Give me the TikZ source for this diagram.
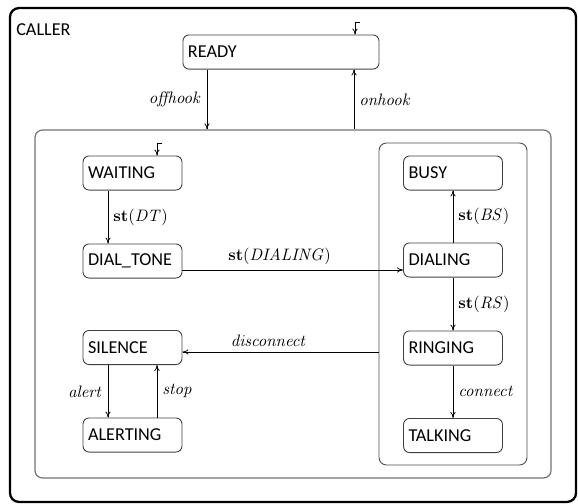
\documentclass[tikz,border=0pt]{standalone}
\usepackage[no-math]{fontspec}
\setsansfont{Carlito}
\usetikzlibrary{arrows.meta}

\begin{document}
\begin{tikzpicture}[x=0.66pt,y=-0.66pt,%
					>={To[length=4pt,width=3.4pt]},%
					state/.style={draw=black!75,line width=0.6pt,rounded corners=4pt,%
						minimum height=22.5pt,inner xsep=3.3pt,text width=58.7pt,align=left,%
						font=\sffamily\fontsize{12}{14}\selectfont},%
					cluster/.style={draw,rounded corners=5pt,inner sep=0pt},%
					trans/.style={font=\fontsize{10.6}{12}\selectfont},%
					every edge/.style={draw,->,line width=0.5pt}]
\useasboundingbox (0,0) rectangle (578,504);

% boxes round the states
\node [cluster,line width=1.5pt,rounded corners=6pt,minimum width=373.6pt,minimum height=326pt] (caller) at (293,255) {};
\node [cluster,draw=black!55,line width=0.8pt,minimum width=340.6pt,minimum height=229.7pt] (main) at (293,304) {};
\node [cluster,draw=black!70,line width=0.6pt,minimum width=97.7pt,minimum height=212.5pt] (dialbox) at (453,304) {};
\node [anchor=west,inner sep=0pt,font=\sffamily\fontsize{12}{14}\selectfont] (callername) at (16,30) {CALLER};

\node [state,text width=122.8pt] (ready) at (281,52) {READY};

\foreach \a/\b/\c/\d in {waiting/132.5/173/WAITING,dialtone/132.5/261/{DIAL\_TONE},silence/132.5/347.5/SILENCE,alerting/132.5/435/ALERTING,%
	busy/453/173/BUSY,dialing/453/260/DIALING,ringing/453/348/RINGING,talking/453/435.5/TALKING}
	\node [state] (\a) at (\b,\c) {\d};

% default entries
\coordinate (readyinit) at (355,22);
\coordinate (waitinit) at (157,143);
\draw [->,line width=0.5pt] ([xshift=3.5pt]readyinit) -- (readyinit) -- (readyinit |- ready.north);
\draw [->,line width=0.5pt] ([xshift=3.5pt]waitinit) -- (waitinit) -- (waitinit |- waiting.north);

\path (ready.south -| 207,0) edge node[trans,left] {$\mathit{offhook}$} (main.north -| 207,0);
\path (main.north -| 354,0) edge node[trans,right] {$\mathit{onhook}$} (ready.south -| 354,0);

\path (waiting.south -| 108,0) edge node[trans,right] {$\mathbf{st}(\mathit{DT})$} (dialtone.north -| 108,0);
\path (dialtone.east |- 0,270) edge node[trans,above,pos=.44] {$\mathbf{st}(\mathit{DIALING})$} (dialing.west |- 0,270);

\path (dialing) edge node[trans,right] {$\mathbf{st}(\mathit{BS})$} (busy);
\path (dialing) edge node[trans,right] {$\mathbf{st}(\mathit{RS})$} (ringing);
\path (ringing) edge node[trans,right] {$\mathit{connect}$} (talking);

\path (dialbox.west |- 0,352) edge node[trans,above,pos=.56] {$\mathit{disconnect}$} (silence.east |- 0,352);
\path (silence.south -| 108,0) edge node[trans,left] {$\mathit{alert}$} (alerting.north -| 108,0);
\path (alerting.north -| 157,0) edge node[trans,right] {$\mathit{stop}$} (silence.south -| 157,0);

\end{tikzpicture}
\end{document}
